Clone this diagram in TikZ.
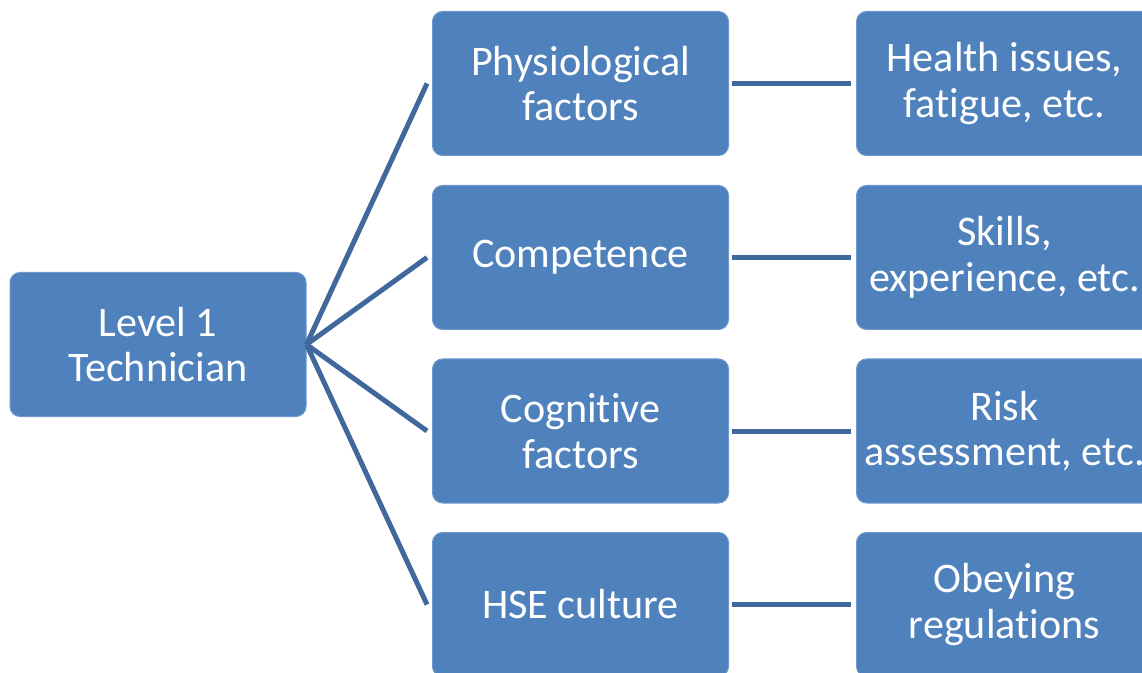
\documentclass[tikz,border=0pt]{standalone}
\usepackage{fontspec}
\setmainfont{Carlito}[Ligatures=CommonOff]
\definecolor{boxblue}{RGB}{79,129,189}
\definecolor{boxedge}{RGB}{112,152,206}
\definecolor{linkblue}{RGB}{64,104,156}
\tikzset{
  box/.style={draw=boxedge, line width=0.75pt, fill=boxblue, rounded corners=7.5pt,
    minimum width=222pt, minimum height=108pt, text=white, align=center,
    font=\fontsize{31.6}{34.2}\selectfont},
  link/.style={draw=linkblue, line width=3.75pt}
}
\begin{document}
\begin{tikzpicture}[x=0.75pt,y=-0.75pt]
\useasboundingbox (0,0) rectangle (1142,673);

\node[box] (tech) at (158,344.5) {Level 1\\Technician};

% middle column
\node[box] (phys) at (580.5,83.5) {Physiological\\factors};
\node[box] (comp) at (580.5,257.5) {Competence};
\node[box] (cogn) at (580.5,431) {Cognitive\\factors};
\node[box] (hse) at (580.5,604.5) {HSE culture};

% right column
\node[box] (health) at (1004.5,83.5) {Health issues,\\fatigue, etc.};
\node[box] (skills) at (1004.5,257.5) {Skills,\\experience, etc.};
\node[box] (risk) at (1004.5,431) {Risk\\assessment, etc.};
\node[box] (obey) at (1004.5,604.5) {Obeying\\regulations};

\draw[link] (tech.east) -- ([xshift=-3.75pt]phys.west);
\draw[link] (tech.east) -- ([xshift=-3.75pt]comp.west);
\draw[link] (tech.east) -- ([xshift=-3.75pt]cogn.west);
\draw[link] (tech.east) -- ([xshift=-3.75pt]hse.west);

\draw[link, shorten <=2.5pt, shorten >=4pt] (phys) -- (health);
\draw[link, shorten <=2.5pt, shorten >=4pt] (comp) -- (skills);
\draw[link, shorten <=2.5pt, shorten >=4pt] (cogn) -- (risk);
\draw[link, shorten <=2.5pt, shorten >=4pt] (hse) -- (obey);
\end{tikzpicture}
\end{document}
